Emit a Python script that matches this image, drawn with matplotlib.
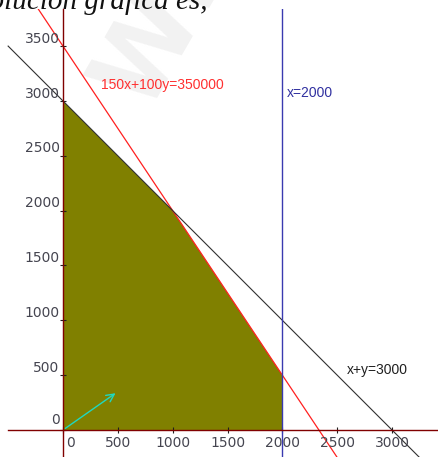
import matplotlib.pyplot as plt
import numpy as np

# feasible region vertices
region_x = [0, 0, 1000, 2000, 2000]
region_y = [0, 3000, 2000, 500, 0]

# constraint lines: a*x + b*y = c
red_coef = (150, 100, 350000)
black_coef = (1, 1, 3000)
x_limit = 2000

# gradient arrow end point
arrow_end = (500, 350)

x_ticks = [0, 500, 1000, 1500, 2000, 2500, 3000]
y_ticks = [0, 500, 1000, 1500, 2000, 2500, 3000, 3500]

fig = plt.figure(figsize=(4.39, 4.57), dpi=100)
ax = fig.add_axes([0, 0, 1, 448 / 457])
ax.set_xlim(-574, 3428)
ax.set_ylim(-246, 3838)

# watermark
for wx, wy in [(793, 3464), (1267, 4285)]:
    ax.text(wx, wy, "W", fontsize=74, fontweight="bold", color="#f2f2f2",
            rotation=60, ha="center", va="center", zorder=0,
            family="DejaVu Sans")

ax.fill(region_x, region_y, color="#808000", lw=0, zorder=1)

xs = np.array([-700, 3500])
a, b, c = red_coef
ax.plot(xs, (c - a * xs) / b, color="#ff2020", lw=0.9, zorder=3)
xb = np.array([-500, 3500])
a, b, c = black_coef
ax.plot(xb, (c - a * xb) / b, color="#303030", lw=0.8, zorder=3)
ax.axvline(x_limit, color="#3a3ab0", lw=1.0, zorder=3)

ax.annotate("", xy=arrow_end, xytext=(0, 0),
            arrowprops=dict(arrowstyle="->", color="#20d8c0", lw=1.0,
                            mutation_scale=14), zorder=4)

# axes through origin
for side in ["top", "right"]:
    ax.spines[side].set_visible(False)
ax.spines["left"].set_position(("data", 0))
ax.spines["bottom"].set_position(("data", 0))
ax.spines["bottom"].set_bounds(-500, 3500)
for side in ["left", "bottom"]:
    ax.spines[side].set_color("#800000")
    ax.spines[side].set_linewidth(1.0)
    ax.spines[side].set_zorder(5)
ax.set_xticks(x_ticks)
ax.set_yticks(y_ticks)
ax.tick_params(direction="inout", length=5, width=0.8, color="#202020",
               labelleft=False, labelbottom=False)

lab = dict(fontsize=10, color="#454550", family="DejaVu Sans")
for xt in x_ticks:
    if xt == 0:
        ax.text(27, -55, "0", ha="left", va="top", **lab)
    else:
        ax.text(xt, -55, str(xt), ha="center", va="top", **lab)
for yt in y_ticks:
    off = 55 if yt == 0 else 30
    ax.text(-30, yt + off, str(yt), ha="right", va="baseline", **lab)

txt = dict(fontsize=10, family="Liberation Sans")
ax.text(346, 3145, "150x+100y=350000", color="#ff3030", va="center", **txt)
ax.text(2042, 3072, "x=2000", color="#3030a0", va="center", **txt)
ax.text(2589, 547, "x+y=3000", color="#202020", va="center", **txt)

fig.text(208 / 439, 1 - 9 / 457, "La solución gráfica es,", ha="right",
         va="baseline", fontsize=21, style="italic", family="Liberation Serif",
         color="#111111")

fig.savefig("out.png", dpi=100)
